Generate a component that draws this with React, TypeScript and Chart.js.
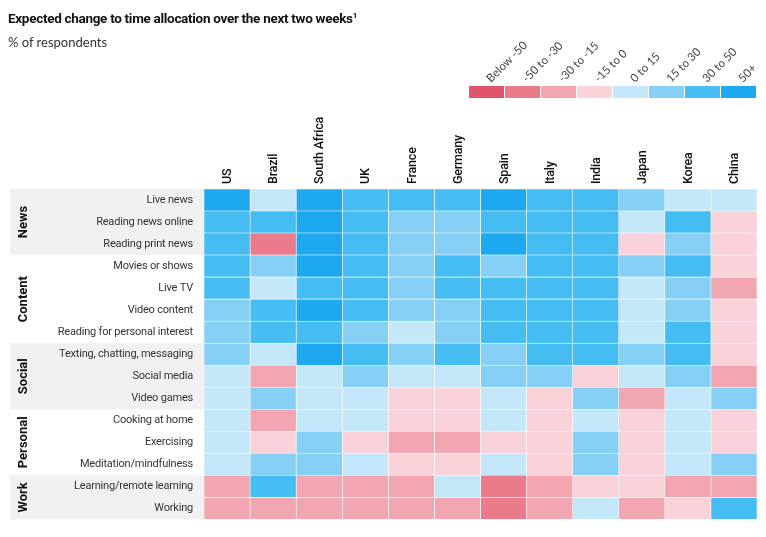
import React, { useEffect, useRef } from "react";
import { Chart, registerables } from "chart.js";

Chart.register(...registerables);

const countries = ["US", "Brazil", "South Africa", "UK", "France", "Germany", "Spain", "Italy", "India", "Japan", "Korea", "China"];
const activities = [
  "Live news",
  "Reading news online",
  "Reading print news",
  "Movies or shows",
  "Live TV",
  "Video content",
  "Reading for personal interest",
  "Texting, chatting, messaging",
  "Social media",
  "Video games",
  "Cooking at home",
  "Exercising",
  "Meditation/mindfulness",
  "Learning/remote learning",
  "Working",
];
const groupNames = ["News", "Content", "Social", "Personal", "Work"];
const groupSizes = [3, 4, 3, 3, 2];
const binLabels = ["Below -50", "-50 to -30", "-30 to -15", "-15 to 0", "0 to 15", "15 to 30", "30 to 50", "50+"];
const binColors = ["#e1546c", "#e97b8b", "#f2a6b1", "#f9d3d9", "#c4e8f9", "#86d0f5", "#46bdf2", "#1ea8ef"];

// bin index (into binLabels) for each activity, per country
const US = [7, 6, 6, 6, 6, 5, 5, 5, 4, 4, 4, 4, 4, 2, 2];
const Brazil = [4, 6, 1, 5, 4, 6, 6, 4, 2, 5, 2, 3, 5, 6, 2];
const SouthAfrica = [7, 7, 7, 7, 6, 7, 6, 7, 4, 4, 4, 5, 5, 2, 2];
const UK = [6, 6, 6, 6, 6, 6, 5, 6, 5, 4, 4, 3, 4, 2, 2];
const France = [6, 5, 5, 5, 5, 5, 4, 5, 4, 3, 3, 2, 3, 2, 2];
const Germany = [6, 5, 5, 6, 6, 5, 5, 6, 4, 3, 3, 2, 3, 4, 2];
const Spain = [7, 6, 7, 5, 6, 6, 6, 5, 5, 4, 4, 3, 4, 1, 1];
const Italy = [6, 6, 6, 6, 6, 6, 6, 6, 5, 3, 3, 3, 3, 2, 2];
const India = [6, 6, 6, 6, 6, 6, 6, 6, 3, 5, 4, 5, 5, 3, 4];
const Japan = [5, 4, 3, 5, 4, 4, 4, 5, 4, 2, 3, 3, 3, 3, 2];
const Korea = [4, 6, 5, 6, 5, 5, 6, 6, 5, 4, 4, 4, 4, 2, 3];
const China = [4, 3, 3, 3, 2, 3, 3, 3, 2, 5, 3, 3, 5, 2, 6];

const countryBins = [US, Brazil, SouthAfrica, UK, France, Germany, Spain, Italy, India, Japan, Korea, China];

const FONT = "Roboto, 'Liberation Sans', sans-serif";
const LABEL_FONT = "Lato, Roboto, sans-serif";

const bandsPlugin = {
  id: "groupBands",
  beforeDraw(chart: any) {
    const { ctx, chartArea, scales } = chart;
    const y = scales.y;
    const half = (y.getPixelForValue(1) - y.getPixelForValue(0)) / 2;
    let start = 0;
    ctx.save();
    groupNames.forEach((name, gi) => {
      const end = start + groupSizes[gi] - 1;
      const top = y.getPixelForValue(start) - half;
      const bottom = y.getPixelForValue(end) + half;
      if (gi % 2 === 0) {
        ctx.fillStyle = "#f1f1f1";
        ctx.fillRect(10, top, chartArea.left - 10, bottom - top);
      }
      ctx.save();
      ctx.translate(24, (top + bottom) / 2);
      ctx.rotate(-Math.PI / 2);
      ctx.fillStyle = "#111";
      ctx.font = `bold 13px ${FONT}`;
      ctx.textAlign = "center";
      ctx.textBaseline = "middle";
      ctx.fillText(name, 0, 0);
      ctx.restore();
      start = end + 1;
    });
    ctx.restore();
    // slightly tighter tracking for the row labels (y axis draws next)
    ctx.letterSpacing = "-0.2px";
  },
  beforeDatasetsDraw(chart: any) {
    chart.ctx.letterSpacing = "0px";
  },
};

const legendPlugin = {
  id: "binLegend",
  afterDraw(chart: any) {
    const { ctx } = chart;
    const left = 469;
    const right = 757;
    const w = (right - left) / binLabels.length;
    ctx.save();
    ctx.letterSpacing = "0px";
    binLabels.forEach((lab, i) => {
      const x0 = left + i * w;
      ctx.fillStyle = binColors[i];
      ctx.fillRect(x0, 86, w - 1, 12);
      ctx.save();
      ctx.translate(x0 + w / 2 + 4, 83);
      ctx.rotate(-Math.PI / 4);
      ctx.fillStyle = "#444";
      ctx.font = `11.5px ${LABEL_FONT}`;
      ctx.textAlign = "left";
      ctx.textBaseline = "alphabetic";
      ctx.fillText(lab, 0, 0);
      ctx.restore();
    });
    ctx.restore();
  },
};

export default function App() {
  const ref = useRef<HTMLCanvasElement>(null);

  useEffect(() => {
    if (!ref.current) return;
    const chart = new Chart(ref.current, {
      type: "bar",
      data: {
        labels: activities,
        datasets: countries.map((c, i) => ({
          label: c,
          data: activities.map(() => 1),
          backgroundColor: countryBins[i].map((b) => binColors[b]),
          borderColor: "#ffffff",
          borderWidth: 0.6,
          borderSkipped: false,
          barPercentage: 1,
          categoryPercentage: 1,
          stack: "grid",
        })),
      },
      options: {
        indexAxis: "y",
        animation: false,
        responsive: true,
        maintainAspectRatio: false,
        layout: { padding: { top: 99, left: 10, right: 9, bottom: 7 } },
        plugins: {
          legend: { display: false },
          tooltip: { enabled: false },
          title: { display: false },
        },
        scales: {
          x: {
            type: "linear",
            position: "top",
            z: 1,
            min: 0,
            max: countries.length,
            stacked: true,
            grid: { display: false, drawTicks: false },
            border: { display: false },
            afterBuildTicks: (s: any) => {
              s.ticks = countries.map((_, i) => ({ value: i + 0.5 }));
            },
            afterFit: (s: any) => {
              s.height = 90;
            },
            ticks: {
              autoSkip: false,
              maxRotation: 90,
              minRotation: 90,
              padding: 5,
              labelOffset: 16,
              color: "#111",
              font: { family: FONT, size: 12.5, weight: "500" },
              callback: (_v: any, idx: number) => countries[idx],
            },
          },
          y: {
            type: "category",
            stacked: true,
            grid: { display: false, drawTicks: false },
            border: { display: false },
            afterFit: (s: any) => {
              s.width = 194;
            },
            ticks: {
              color: "#333",
              padding: 11,
              font: { family: FONT, size: 11 },
            },
          },
        },
      },
      plugins: [bandsPlugin, legendPlugin],
    } as any);
    return () => chart.destroy();
  }, []);

  return (
    <div style={{ position: "fixed", left: 0, top: 0, width: 766, height: 537, background: "#fff", overflow: "hidden" }}>
      <canvas ref={ref} style={{ position: "absolute", left: 0, top: 0 }} />
      <div
        style={{
          position: "absolute",
          left: 8,
          top: 10,
          fontFamily: FONT,
          fontWeight: 700,
          fontSize: 13.5,
          color: "#111",
          letterSpacing: -0.3,
          whiteSpace: "nowrap",
        }}
      >
        Expected change to time allocation over the next two weeks<sup style={{ fontSize: 8 }}>1</sup>
      </div>
      <div
        style={{
          position: "absolute",
          left: 8,
          top: 34,
          fontFamily: LABEL_FONT,
          fontSize: 13,
          color: "#333",
          whiteSpace: "nowrap",
        }}
      >
        % of respondents
      </div>
    </div>
  );
}
